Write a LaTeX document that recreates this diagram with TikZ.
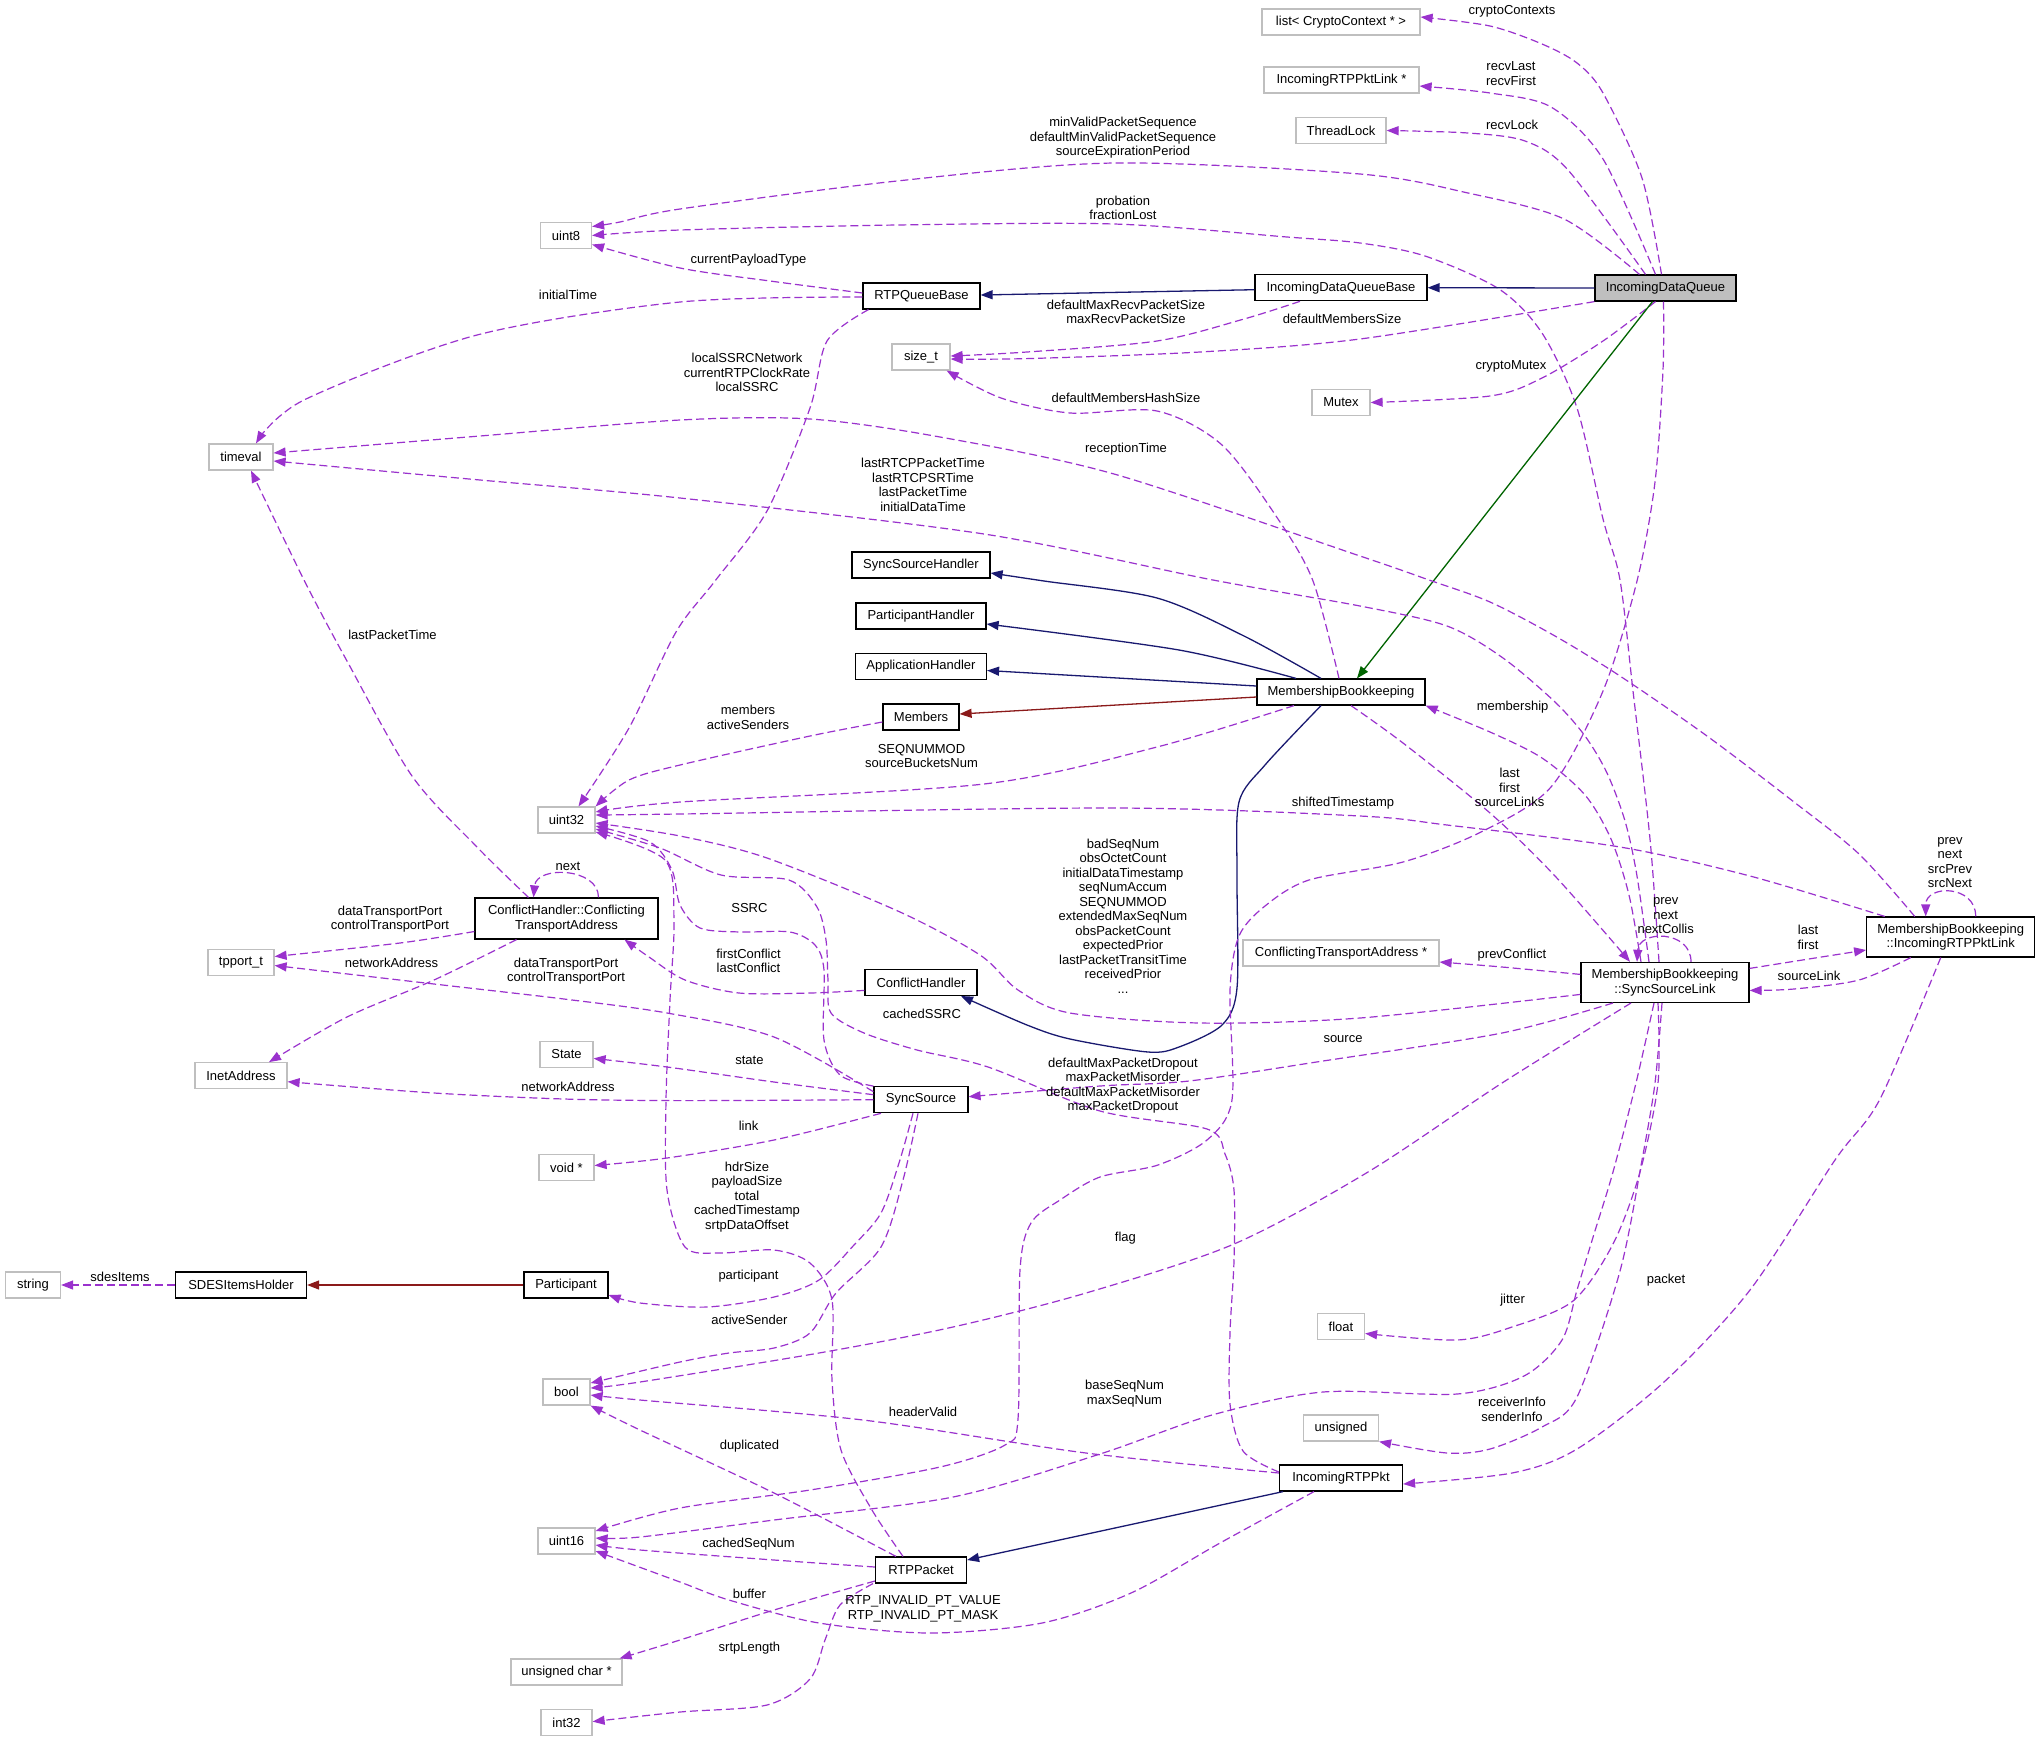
\documentclass[tikz,border=0pt]{standalone}
\usepackage{fontspec}
\setmainfont{Liberation Sans}
\usetikzlibrary{arrows.meta}
\definecolor{purp}{HTML}{9A32CD}
\definecolor{navy}{HTML}{191970}
\definecolor{fire}{HTML}{8B1A1A}
\definecolor{dgreen}{HTML}{006400}
\definecolor{gry}{HTML}{BFBFBF}
\begin{document}
\begin{tikzpicture}[x=1pt,y=-1pt,
  every node/.style={font=\fontsize{13pt}{14.5pt}\selectfont},
  cls/.style={draw=black, line width=1.2pt, fill=white, inner sep=0pt, align=center, minimum height=26pt},
  ext/.style={draw=gry, line width=1.2pt, fill=white, inner sep=0pt, align=center, minimum height=26pt},
  lbl/.style={inner sep=0pt, align=center},
  rel/.style={draw=purp, line width=1.2pt, dash pattern=on 8pt off 4pt, -{Triangle[length=12pt,width=9pt]}},
  inh/.style={draw=navy, line width=1.3pt, -{Triangle[length=12pt,width=9pt]}},
  priv/.style={draw=fire, line width=1.3pt, -{Triangle[length=12pt,width=9pt]}},
  prot/.style={draw=dgreen, line width=1.3pt, -{Triangle[length=12pt,width=9pt]}},
  sm/.style={smooth, tension=0.5}
]
\fill[white] (0,0) rectangle (2040,1741);
\useasboundingbox (0,0) rectangle (2040,1741);

% ---------- nodes ----------
\node[ext, minimum width=158pt] (lcc) at (1341,22) {list< CryptoContext * >};
\node[ext, minimum width=155pt] (irpl) at (1341.5,80) {IncomingRTPPktLink *};
\node[ext, minimum width=90pt] (tlock) at (1341,130.5) {ThreadLock};
\node[ext, minimum width=51pt] (uint8) at (566,235.5) {uint8};
\node[cls, minimum width=117pt] (rqb) at (921.5,296) {RTPQueueBase};
\node[cls, minimum width=172pt] (idqb) at (1341,287.7) {IncomingDataQueueBase};
\node[cls, minimum width=141pt, fill=gry] (idq) at (1665.5,288) {IncomingDataQueue};
\node[ext, minimum width=58pt] (sizet) at (921,357) {size\_t};
\node[ext, minimum width=58pt] (mutex) at (1341,402.5) {Mutex};
\node[ext, minimum width=64pt] (timeval) at (241,457) {timeval};
\node[cls, minimum width=138pt] (ssh) at (921,565) {SyncSourceHandler};
\node[cls, minimum width=130pt] (ph) at (921,616) {ParticipantHandler};
\node[cls, minimum width=131pt] (ah) at (921,666.5) {ApplicationHandler};
\node[cls, minimum width=76pt] (members) at (921,717) {Members};
\node[cls, minimum width=168pt] (mbk) at (1341,692) {MembershipBookkeeping};
\node[ext, minimum width=57pt] (uint32) at (566.5,820) {uint32};
\node[cls, minimum width=183pt, minimum height=41pt] (cta) at (566.5,918.5) {ConflictHandler::Conflicting\\TransportAddress};
\node[ext, minimum width=66pt] (tpport) at (241,962.5) {tpport\_t};
\node[ext, minimum width=92pt] (inet) at (241,1075.7) {InetAddress};
\node[ext, minimum width=53pt] (state) at (566.5,1054.4) {State};
\node[cls, minimum width=112pt] (ch) at (921,982.4) {ConflictHandler};
\node[ext, minimum width=196pt] (ctap) at (1341,953) {ConflictingTransportAddress *};
\node[cls, minimum width=168pt, minimum height=40pt] (ssl) at (1665,982.4) {MembershipBookkeeping\\::SyncSourceLink};
\node[cls, minimum width=168pt, minimum height=40pt] (mirl) at (1950.7,937) {MembershipBookkeeping\\::IncomingRTPPktLink};
\node[cls, minimum width=94pt] (ss) at (921,1099.7) {SyncSource};
\node[ext, minimum width=55pt] (voidp) at (566.5,1167.5) {void *};
\node[ext, minimum width=55pt] (string) at (33,1285) {string};
\node[cls, minimum width=131pt] (sdes) at (241,1285) {SDESItemsHolder};
\node[cls, minimum width=84pt] (part) at (566,1285) {Participant};
\node[ext, minimum width=47pt] (bool) at (566.5,1392) {bool};
\node[ext, minimum width=57pt] (uint16) at (566.5,1541) {uint16};
\node[ext, minimum width=111pt] (uchar) at (566.5,1672) {unsigned char *};
\node[ext, minimum width=51pt] (int32) at (566.5,1722.6) {int32};
\node[cls, minimum width=91pt] (rtpp) at (921,1570) {RTPPacket};
\node[cls, minimum width=123pt] (irp) at (1341,1478) {IncomingRTPPkt};
\node[ext, minimum width=47pt] (float) at (1341,1326.5) {float};
\node[ext, minimum width=75pt] (unsigned) at (1341,1428) {unsigned};

% ---------- edges ----------
\draw[rel] plot[sm] coordinates {([xshift=-4pt]idq.north) (1642,178) (1603,93) (1577,63) (1542,44) (1490,26) ([yshift=5pt]lcc.east)};
\draw[rel] plot[sm] coordinates {([xshift=-10pt]idq.north) (1603,159) (1551,107) (1490,93) ([yshift=-6pt]irpl.east)};
\draw[rel] plot[sm] coordinates {([xshift=-20pt]idq.north) (1568,170) (1525,141) (1468,133) (tlock.east)};
\draw[rel] plot[sm] coordinates {([xshift=-26pt]idq.north) (1564,219) (1468,193) (1360,174) (1114,163) (897,181) (680,209) (620,222) ([yshift=9pt]uint8.east)};
\draw[rel] plot[sm] coordinates {([xshift=-6pt]ssl.north) (1650,839) (1633,691) (1620,580) (1603,519) (1577,408) (1542,333) (1499,289) (1425,256) (1360,243) (1287,237) (1114,224) (897,225) (680,230) (uint8.east)};
\draw[rel] plot[sm] coordinates {([yshift=3pt]rqb.west) (770,281) (680,268) ([yshift=-9pt]uint8.east)};
\draw[rel] plot[sm] coordinates {([yshift=-1pt]rqb.west) (680,302) (477,335) (304,400) ([xshift=15pt]timeval.north)};
\draw[rel] plot[sm] coordinates {([xshift=-53pt]rqb.south) (827,341) (810,408) (767,511) (715,581) (676,632) (629,728) ([xshift=12pt]uint32.north)};
\draw[inh] ([yshift=-2pt]idqb.west) -- ([yshift=1pt]rqb.east);
\draw[inh] (idq.west) -- (idqb.east);
\draw[rel] plot[sm] coordinates {([xshift=-41pt]idqb.south) (1244,319) (1157,341) (1027,352) ([yshift=1pt]sizet.east)};
\draw[rel] plot[sm] coordinates {(idq.south west) (1360,339) (1200,352) (1027,358.6) ([yshift=-2pt]sizet.east)};
\draw[rel] plot[sm] coordinates {([xshift=-10pt]idq.south) (1603,341) (1542,378) (1490,396) (mutex.east)};
\draw[prot] ([xshift=-13pt]idq.south) -- ([xshift=16pt]mbk.north);
\draw[rel] plot[sm] coordinates {([xshift=-2pt]mbk.north) (1313,581) (1278,519) (1222,445) (1157,411) (1070,413) (1001,398) ([xshift=-4pt]sizet.south east)};
\draw[rel] plot[sm] coordinates {([xshift=-36pt]mirl.north) (1859,854) (1794,802) (1707,736) (1620,676) (1555,636) (1490,602) (1429,580) (1360,556) (1114,474) (940,437) (810,419) (680,420) (480,436) ([yshift=4pt]timeval.east)};
\draw[rel] plot[sm] coordinates {([xshift=-16pt]ssl.north) (1637,876) (1625,821) (1607,773) (1585,736) (1555,702) (1503,658) (1447,626) (1360,606) (1213,580) (984,534) (680,498) (480,480) ([yshift=-4pt]timeval.east)};
\draw[inh] plot[sm] coordinates {([xshift=-20pt]mbk.north) (1244,636) (1157,598) (1044,581) ([yshift=-8pt]ssh.east)};
\draw[inh] plot[sm] coordinates {([xshift=-45pt]mbk.north) (1179,650) ([yshift=-8pt]ph.east)};
\draw[inh] ([yshift=6pt]mbk.west) -- ([yshift=-4pt]ah.east);
\draw[priv] ([yshift=-5pt]mbk.west) -- ([yshift=3pt]members.east);
\draw[rel] plot[sm] coordinates {([yshift=-5pt]members.west) (810,736) (680,765) (629,780) (uint32.north east)};
\draw[rel] plot[sm] coordinates {([xshift=-47pt]mbk.south) (1157,747) (984,784) (680,802) ([yshift=8pt]uint32.east)};
\draw[rel] plot[sm] coordinates {([xshift=-66pt]mirl.north) (1750,876) (1620,847) (1447,825) (1360,816) (1114,808) (680,814) ([yshift=5pt]uint32.east)};
\draw[rel] plot[sm] coordinates {([yshift=-12pt]ssl.west) (1360,1018) (1200,1023) (1070,1013) (1018,990) (980,955) (900,912) (767,858) (680,836) ([yshift=-3pt]uint32.east)};
\draw[rel] plot[sm] coordinates {(ss.north west) (840,1075) (824,1040) (824,970) (815,945) (790,932) (740,932) (700,928) (680,905) (672,870) (650,842) ([yshift=-6pt]uint32.east)};
\draw[rel] plot[sm] coordinates {([yshift=6pt]irp.west) (1243,1451) (1230,1404) (1230,1333) (1234,1261) (1234,1190) (1225,1154) (1207,1129) (1100,1111) (988,1067) (917,1050) (864,1033) (831,1013) (828,980) (826,940) (817,907) (789,880) (721,875) (660,848) ([yshift=-9pt]uint32.east)};
\draw[rel] plot[sm] coordinates {([xshift=-18pt]rtpp.north) (872,1510) (841,1450) (832,1380) (832,1300) (810,1263) (774,1250) (720,1253) (685,1247) (667,1190) (666,1100) (670,1000) (674,920) (665,860) ([yshift=-12pt]uint32.east)};
\draw[rel] plot[sm] coordinates {([yshift=-8pt]ch.west) (810,993) (739,993) (685,980) (649,957) ([xshift=58pt]cta.south)};
\draw[inh] plot[sm] coordinates {([xshift=-20pt]mbk.south) (1265,765) (1239,802) (1237,876) (1237,988) (1222,1025) (1179,1047) (1148,1052) (1070,1039) (1027,1025) ([xshift=40pt]ch.south)};
\draw[rel] ([xshift=32pt]cta.north) .. controls ([xshift=32pt,yshift=30pt]cta.north) and ([xshift=-30pt,yshift=32pt]cta.north) .. ([xshift=-33pt]cta.north);
\draw[rel] plot[sm] coordinates {([xshift=-38pt]cta.north) (477,847) (412,776) (347,661) (304,580) ([xshift=10pt]timeval.south)};
\draw[rel] plot[sm] coordinates {([yshift=-13pt]cta.west) (400,943) ([yshift=6pt]tpport.east)};
\draw[rel] plot[sm] coordinates {([xshift=-50pt]cta.south) (434,980) (347,1017) ([xshift=28pt]inet.north)};
\draw[rel] plot[sm] coordinates {([yshift=8pt]ss.west) (774,1037) (667,1013) (564,999) (434,984) ([yshift=-3pt]tpport.east)};
\draw[rel] plot[sm] coordinates {(ss.west) (680,1100.6) (564,1099) (434,1093) ([yshift=-6pt]inet.east)};
\draw[rel] plot[sm] coordinates {([yshift=5pt]ss.west) (774,1082) (667,1067) ([yshift=-4pt]state.east)};
\draw[rel] plot[sm] coordinates {([xshift=-40pt]ss.south) (774,1140) (667,1158) ([yshift=2pt]voidp.east)};
\draw[rel] plot[sm] coordinates {([xshift=-8pt]ss.south) (899,1163) (881,1213) (854,1245) (819,1280) (774,1297) (707,1307) (640,1303) ([yshift=-10pt]part.east)};
\draw[rel] plot[sm] coordinates {([xshift=-3pt]ss.south) (903,1180) (881,1247) (836,1293) (810,1333) (774,1348) (729,1353) (680,1362) ([yshift=9pt]bool.east)};
\draw[rel] plot[sm] coordinates {([xshift=-34pt]ssl.south) (1502,1083) (1368,1172) (1234,1244) (1086,1293) (953,1327) (819,1353) (640,1382) ([yshift=4pt]bool.east)};
\draw[rel] plot[sm] coordinates {([yshift=5pt]irp.west) (1086,1453) (863,1420) (640,1400) ([yshift=-3pt]bool.east)};
\draw[rel] plot[sm] coordinates {([xshift=-25pt]rtpp.north) (774,1493) (640,1430) (bool.south east)};
\draw[rel] plot[sm] coordinates {([yshift=3pt]rtpp.west) (774,1560) (640,1550) ([yshift=-4pt]uint16.east)};
\draw[rel] plot[sm] coordinates {([xshift=-11pt]ssl.south) (1636,1083) (1613,1172) (1594,1234) (1577,1290) (1562,1340) (1524,1376) (1457,1394) (1323,1392) (1212,1415) (1100,1454) (953,1497) (774,1520) (640,1537) ([yshift=3pt]uint16.east)};
\draw[rel] plot[sm] coordinates {([xshift=-2pt]idq.south) (1663,370) (1655,482) (1637,581) (1603,691) (1551,787) (1481,832) (1403,862) (1309,880) (1265,906) (1239,936) (1230,990) (1232,1100) (1207,1140) (1158,1165) (1100,1177) (1060,1200) (1031,1223) (1020,1270) (1018,1419) (1005,1445) (940,1467) (810,1490) (680,1508) ([yshift=10pt]uint16.east)};
\draw[rel] plot[sm] coordinates {([xshift=-27pt]irp.south) (1220,1543) (1131,1593) (1042,1623) (930,1633) (819,1623) (729,1600) (680,1582) ([yshift=-10pt]uint16.east)};
\draw[rel] plot[sm] coordinates {([yshift=-11pt]rtpp.west) (774,1610) (680,1640) ([xshift=-3pt]uchar.north east)};
\draw[rel] plot[sm] coordinates {([xshift=-48pt]rtpp.south) (840,1605) (825,1640) (810,1679) (767,1705) (680,1712) ([yshift=1pt]int32.east)};
\draw[inh] ([xshift=-58pt]irp.south) -- ([yshift=10pt]rtpp.east);
\draw[rel] plot[sm] coordinates {([xshift=-52pt]ssl.south) (1502,1033) (1323,1061) (1189,1081) (1100,1086) ([yshift=3pt]ss.east)};
\draw[rel] plot[sm] coordinates {([xshift=-7pt]ssl.south) (1658,1083) (1640,1172) (1613,1244) (1573,1301) (1512,1327) (1457,1340) ([yshift=-7pt]float.east)};
\draw[rel] plot[sm] coordinates {([xshift=-3pt]ssl.south) (1655,1083) (1642,1160) (1620,1271) (1577,1397) (1542,1427) (1490,1449) (1447,1453) (unsigned.south east)};
\draw[rel] plot[sm] coordinates {([xshift=-10pt]mirl.south) (1880,1099) (1835,1160) (1750,1290) (1664,1382) (1577,1449) (1512,1473) ([yshift=-6pt]irp.east)};
\draw[rel] plot[sm] coordinates {([yshift=8pt]ssl.west) (1502,967) ([yshift=-9pt]ctap.east)};
\draw[rel] plot[sm] coordinates {([yshift=14pt]ssl.east) (1815,958) ([yshift=-13pt]mirl.west)};
\draw[rel] plot[sm] coordinates {([xshift=-40pt]mirl.south) (1859,980) (1794,989) ([yshift=-8pt]ssl.east)};
\draw[rel] ([xshift=25pt]mirl.north) .. controls ([xshift=25pt,yshift=32pt]mirl.north) and ([xshift=-25pt,yshift=32pt]mirl.north) .. ([xshift=-25pt]mirl.north);
\draw[rel] ([xshift=26pt]ssl.north) .. controls ([xshift=26pt,yshift=32pt]ssl.north) and ([xshift=-26pt,yshift=32pt]ssl.north) .. ([xshift=-28pt]ssl.north);
\draw[rel] plot[sm] coordinates {([xshift=10pt]mbk.south) (1403,743) (1490,813) (1555,876) ([xshift=-35pt]ssl.north)};
\draw[rel] plot[sm] coordinates {([xshift=-24pt]ssl.north) (1629,895) (1611,839) (1585,795) (1542,758) (1490,732) (mbk.south east)};
\draw[rel] (sdes.west) -- (string.east);
\draw[priv] (part.west) -- (sdes.east);

% ---------- labels ----------
\node[lbl] (t1) at (1512,11.5) {cryptoContexts};
\node[lbl] (t2) at (1511,73.5) {recvLast\\recvFirst};
\node[lbl] (t3) at (1512,124.5) {recvLock};
\node[lbl] (t4) at (1123,138) {minValidPacketSequence\\defaultMinValidPacketSequence\\sourceExpirationPeriod};
\node[lbl] (t5) at (1123,208) {probation\\fractionLost};
\node[lbl] (t6) at (748.5,260.5) {currentPayloadType};
\node[lbl] (t7) at (568,295.3) {initialTime};
\node[lbl] (t8) at (1126,311.6) {defaultMaxRecvPacketSize\\maxRecvPacketSize};
\node[lbl] (t9) at (1342,319) {defaultMembersSize};
\node[lbl] (t10) at (747,372.6) {localSSRCNetwork\\currentRTPClockRate\\localSSRC};
\node[lbl] (t11) at (1511,366.4) {cryptoMutex};
\node[lbl] (t12) at (1126,398.3) {defaultMembersHashSize};
\node[lbl] (t13) at (1126,448.7) {receptionTime};
\node[lbl] (t14) at (923,485) {lastRTCPPacketTime\\lastRTCPSRTime\\lastPacketTime\\initialDataTime};
\node[lbl] (t15) at (392.5,634.5) {lastPacketTime};
\node[lbl] (t16) at (1512.6,707.5) {membership};
\node[lbl] (t17) at (748,717.5) {members\\activeSenders};
\node[lbl] (t18) at (921.5,756) {SEQNUMMOD\\sourceBucketsNum};
\node[lbl] (t19) at (1509.6,787.5) {last\\first\\sourceLinks};
\node[lbl] (t20) at (1343,802.7) {shiftedTimestamp};
\node[lbl] (t21) at (1950,862.7) {prev\\next\\srcPrev\\srcNext};
\node[lbl] (t22) at (568,866.4) {next};
\node[lbl] (t23) at (1123,916) {badSeqNum\\obsOctetCount\\initialDataTimestamp\\seqNumAccum\\SEQNUMMOD\\extendedMaxSeqNum\\obsPacketCount\\expectedPrior\\lastPacketTransitTime\\receivedPrior\\...};
\node[lbl] (t24) at (749.4,908) {SSRC};
\node[lbl] (t25) at (1665.7,915.7) {prev\\next\\nextCollis};
\node[lbl] (t26) at (390,919) {dataTransportPort\\controlTransportPort};
\node[lbl] (t27) at (1808,937.4) {last\\first};
\node[lbl] (t28) at (1512,955.3) {prevConflict};
\node[lbl] (t29) at (748.5,961) {firstConflict\\lastConflict};
\node[lbl] (t30) at (391.6,962.4) {networkAddress};
\node[lbl] (t31) at (566,971) {dataTransportPort\\controlTransportPort};
\node[lbl] (t32) at (1809,975.7) {sourceLink};
\node[lbl] (t33) at (922,1014) {cachedSSRC};
\node[lbl] (t34) at (1343,1039) {source};
\node[lbl] (t35) at (749.4,1060.5) {state};
\node[lbl] (t36) at (1123,1085.4) {defaultMaxPacketDropout\\maxPacketMisorder\\defaultMaxPacketMisorder\\maxPacketDropout};
\node[lbl] (t37) at (568,1086.5) {networkAddress};
\node[lbl] (t38) at (748.5,1126) {link};
\node[lbl] (t39) at (747,1197) {hdrSize\\payloadSize\\total\\cachedTimestamp\\srtpDataOffset};
\node[lbl] (t40) at (1125.4,1238.5) {flag};
\node[lbl] (t41) at (120,1276.7) {sdesItems};
\node[lbl] (t42) at (748.5,1276) {participant};
\node[lbl] (t43) at (1666,1280) {packet};
\node[lbl] (t44) at (1512.6,1300.4) {jitter};
\node[lbl] (t45) at (749.4,1319.7) {activeSender};
\node[lbl] (t46) at (1124.5,1393.4) {baseSeqNum\\maxSeqNum};
\node[lbl] (t47) at (1512,1409.5) {receiverInfo\\senderInfo};
\node[lbl] (t48) at (923,1412.3) {headerValid};
\node[lbl] (t49) at (749.4,1446.4) {duplicated};
\node[lbl] (t50) at (748.5,1544.6) {cachedSeqNum};
\node[lbl] (t51) at (749.4,1594.2) {buffer};
\node[lbl] (t52) at (923,1609) {RTP\_INVALID\_PT\_VALUE\\RTP\_INVALID\_PT\_MASK};
\node[lbl] (t53) at (749.4,1648) {srtpLength};
\end{tikzpicture}
\end{document}
